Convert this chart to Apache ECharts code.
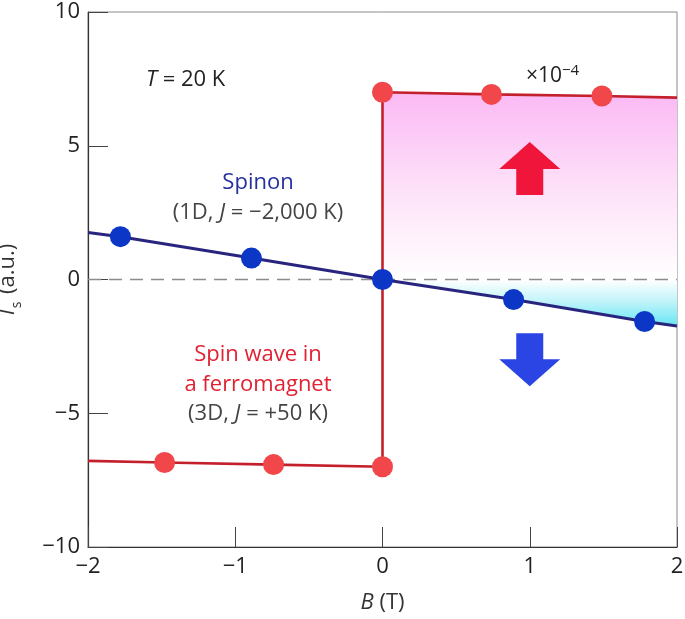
<!DOCTYPE html>
<html><head><meta charset="utf-8">
<script src="https://cdn.jsdelivr.net/npm/echarts@6/dist/echarts.min.js"></script>
<style>html,body{margin:0;padding:0;background:#fff}#c{width:685px;height:619px}</style>
</head><body><div id="c"></div>
<script>
// Data
const xTicks = [-2, -1, 0, 1, 2];
const yTicks = [-10, -5, 0, 5, 10];
// Spin wave (red) measured points
const redPtsX = [-1.48, -0.74, 0, 0, 0.74, 1.49];
const redPtsY = [-6.84, -6.92, -7.0, 7.0, 6.92, 6.86];
// Spin wave line (extends to the axis ends)
const redLineX = [-2, -1.48, -0.74, 0, 0, 0.74, 1.49, 2];
const redLineY = [-6.78, -6.84, -6.92, -7.0, 7.0, 6.92, 6.86, 6.8];
// Spinon (blue) points
const bluePtsX = [-1.78, -0.89, 0, 0.89, 1.78];
const bluePtsY = [1.6, 0.8, 0, -0.75, -1.57];
// Spinon line
const blueLineX = [-2, -1.78, -0.89, 0, 0.89, 1.78, 2];
const blueLineY = [1.76, 1.6, 0.8, 0, -0.75, -1.57, -1.74];
// Arrow positions
const arrowUp = [1.0, 4.15];
const arrowDown = [1.0, -3.0];

const zip = (xs, ys) => xs.map((x, i) => [x, ys[i]]);
const FONT = '"Open Sans", "Noto Sans", sans-serif';
const FS = 22;

const pinkFill = zip(redLineX, redLineY).filter((p, i) => p[0] >= 0 && p[1] > 0);
const cyanFill = zip(blueLineX, blueLineY).filter(p => p[0] >= 0);

const chart = echarts.init(document.getElementById('c'), null, {renderer: 'canvas'});
const upPath = 'path://M30.5,0 L61,27 L44,27 L44,53 L17,53 L17,27 L0,27 Z';
const downPath = 'path://M17,0 L44,0 L44,26 L61,26 L30.5,53 L0,26 L17,26 Z';

chart.setOption({
  animation: false,
  textStyle: {fontFamily: FONT},
  grid: {left: 88, right: 8, top: 12, bottom: 72, show: true, borderColor: '#8a8a8a', borderWidth: 1,
    outerBoundsMode: 'none', containLabel: false},
  xAxis: {
    type: 'value', min: -2, max: 2, interval: 1,
    name: '{i|B} (T)', nameLocation: 'middle', nameGap: 45,
    nameTextStyle: {fontFamily: FONT, fontSize: FS, color: '#333', rich: {i: {fontStyle: 'italic', fontSize: FS, color: '#333', fontFamily: FONT}}},
    axisLine: {onZero: false, lineStyle: {color: '#333', width: 1.2}},
    axisTick: {inside: true, length: 20, lineStyle: {color: '#444', width: 1}},
    axisLabel: {fontSize: FS, color: '#222', margin: 9, fontFamily: FONT,
      formatter: v => xTicks.includes(v) ? String(v).replace('-', '\u2212') : ''},
    splitLine: {show: false}
  },
  yAxis: {
    type: 'value', min: -10, max: 10, interval: 5,
    name: '{i|I}{s|s} (a.u.)', nameLocation: 'middle', nameGap: 64, nameRotate: 90,
    nameTextStyle: {fontFamily: FONT, fontSize: FS, color: '#333',
      rich: {i: {fontStyle: 'italic', fontSize: FS, color: '#333', fontFamily: FONT},
             s: {fontSize: 14, color: '#333', fontFamily: FONT, padding: [0, 2, 0, 1], verticalAlign: 'bottom', lineHeight: 32}}},
    axisLine: {onZero: false, lineStyle: {color: '#333', width: 1.2}},
    axisTick: {inside: true, length: 20, lineStyle: {color: '#444', width: 1}},
    axisLabel: {fontSize: FS, color: '#222', margin: 8, fontFamily: FONT,
      formatter: v => yTicks.includes(v) ? String(v).replace('-', '\u2212') : ''},
    splitLine: {show: false}
  },
  series: [
    {type: 'line', data: pinkFill, symbol: 'none', lineStyle: {width: 0}, silent: true, z: 1,
      areaStyle: {opacity: 1, color: new echarts.graphic.LinearGradient(0, 0, 0, 1, [
        {offset: 0, color: '#fbb9f4'}, {offset: 0.5, color: '#fde0f8'}, {offset: 1, color: '#ffffff'}])}},
    {type: 'line', data: cyanFill, symbol: 'none', lineStyle: {width: 0}, silent: true, z: 1,
      areaStyle: {opacity: 1, color: new echarts.graphic.LinearGradient(0, 0, 0, 1, [
        {offset: 0, color: '#ffffff'}, {offset: 0.45, color: '#c4f4fa'}, {offset: 1, color: '#66e6f4'}])}},
    {type: 'line', data: [[-2, 0], [2, 0]], symbol: 'none', z: 2, silent: true,
      lineStyle: {color: '#8c8c8c', width: 1.5, type: [13, 8]}},
    {type: 'line', data: zip(redLineX, redLineY), symbol: 'none', z: 3,
      lineStyle: {color: '#c4202c', width: 2.6}},
    {type: 'line', data: zip(blueLineX, blueLineY), symbol: 'none', z: 4,
      lineStyle: {color: '#29257f', width: 3}},
    {type: 'scatter', data: zip(redPtsX, redPtsY), symbolSize: 21, z: 5,
      itemStyle: {color: '#f1464a', opacity: 1}},
    {type: 'scatter', data: zip(bluePtsX, bluePtsY), symbolSize: 21, z: 6,
      itemStyle: {color: '#0b36c6', opacity: 1}},
    {type: 'scatter', data: [arrowUp], symbol: upPath, symbolSize: [61, 53], z: 5,
      itemStyle: {color: '#f0153a', opacity: 1}},
    {type: 'scatter', data: [arrowDown], symbol: downPath, symbolSize: [61, 53], z: 5,
      itemStyle: {color: '#2a45e4', opacity: 1}}
  ],
  graphic: [
    {type: 'text', x: 146, y: 80, style: {text: '{i|T} = 20 K', fontFamily: FONT, fontSize: FS, fill: '#222', verticalAlign: 'middle',
      rich: {i: {fontStyle: 'italic', fontSize: FS, fontFamily: FONT, fill: '#222'}}}},
    {type: 'text', x: 526, y: 76, style: {text: '×10{sup|\u22124}', fontFamily: FONT, fontSize: 21, fill: '#222', verticalAlign: 'middle',
      rich: {sup: {fontSize: 15, fontFamily: FONT, fill: '#222', verticalAlign: 'top', padding: [0, 0, 10, 0]}}}},
    {type: 'text', x: 258, y: 183, style: {text: 'Spinon', fontFamily: FONT, fontSize: FS, fill: '#24309e', align: 'center', verticalAlign: 'middle'}},
    {type: 'text', x: 258, y: 213, style: {text: '(1D, {i|J} = \u22122,000 K)', fontFamily: FONT, fontSize: FS, fill: '#444', align: 'center', verticalAlign: 'middle',
      rich: {i: {fontStyle: 'italic', fontSize: FS, fontFamily: FONT, fill: '#444'}}}},
    {type: 'text', x: 258, y: 355, style: {text: 'Spin wave in', fontFamily: FONT, fontSize: FS, fill: '#e02232', align: 'center', verticalAlign: 'middle'}},
    {type: 'text', x: 258, y: 385, style: {text: 'a ferromagnet', fontFamily: FONT, fontSize: FS, fill: '#e02232', align: 'center', verticalAlign: 'middle'}},
    {type: 'text', x: 258, y: 414, style: {text: '(3D, {i|J} = +50 K)', fontFamily: FONT, fontSize: FS, fill: '#444', align: 'center', verticalAlign: 'middle',
      rich: {i: {fontStyle: 'italic', fontSize: FS, fontFamily: FONT, fill: '#444'}}}}
  ]
});
</script></body></html>
